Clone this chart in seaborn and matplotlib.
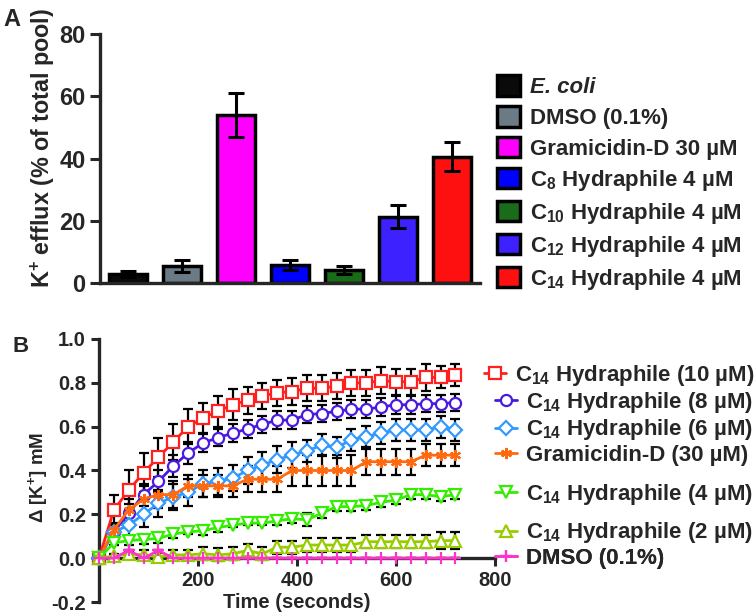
import numpy as np
import matplotlib
matplotlib.use('Agg')
import matplotlib.pyplot as plt
import matplotlib.transforms as mtransforms
from matplotlib.patches import Patch
from matplotlib.lines import Line2D
import seaborn as sns

sns.set_style('ticks')
plt.rcParams['font.family'] = ['Liberation Sans', 'DejaVu Sans']
plt.rcParams['font.weight'] = 'bold'
plt.rcParams['axes.labelweight'] = 'bold'
plt.rcParams['axes.unicode_minus'] = False
plt.rcParams['mathtext.fontset'] = 'custom'
plt.rcParams['mathtext.rm'] = 'Liberation Sans:bold'
plt.rcParams['mathtext.bf'] = 'Liberation Sans:bold'
plt.rcParams['mathtext.it'] = 'Liberation Sans:bold:italic'

# ---- panel A data ----
a_labels = ['E. coli', 'DMSO (0.1%)', 'Gramicidin-D 30 µM', 'C$_8$ Hydraphile 4 µM',
            'C$_{10}$ Hydraphile 4 µM', 'C$_{12}$ Hydraphile 4 µM', 'C$_{14}$ Hydraphile 4 µM']
a_values = [3.0, 5.4, 54.0, 5.9, 4.1, 21.3, 40.6]
a_err = [1.0, 2.0, 7.0, 1.6, 1.3, 3.6, 4.6]
a_colors = ['#0a0a0a', '#6b7b86', '#ff00ff', '#0000ff', '#1a6b1a', '#3d22ff', '#ff1010']

# ---- panel B data ----
time_s = list(range(0, 721, 30))
c14_10 = [0, .22, .31, .39, .46, .53, .60, .64, .67, .70, .72, .74, .755, .76, .775, .775,
          .785, .80, .80, .81, .805, .805, .825, .825, .835]
c14_8 = [0, .12, .205, .29, .35, .42, .48, .525, .55, .57, .59, .61, .63, .63, .655, .66,
         .67, .68, .68, .69, .70, .70, .705, .705, .71]
c14_6 = [0, .12, .15, .20, .25, .28, .30, .34, .35, .365, .40, .425, .45, .47, .49, .515,
         .505, .54, .555, .57, .585, .585, .585, .60, .585]
gram_30 = [0, .13, .22, .27, .29, .29, .33, .33, .33, .33, .36, .36, .36, .40, .40, .40,
           .40, .40, .44, .44, .44, .44, .47, .47, .47]
c14_4 = [0, .07, .08, .085, .09, .11, .12, .125, .14, .15, .16, .16, .17, .18, .175, .205,
         .235, .235, .24, .255, .265, .29, .29, .28, .29]
c14_2 = [0, .01, .02, .015, .005, .015, .015, .02, .015, .02, .035, .02, .05, .05, .06, .06,
         .06, .06, .075, .075, .075, .075, .075, .08, .08]
dmso = [0, 0, .035, 0, .035, 0, 0, 0, 0, 0, 0, 0, 0, 0, 0, 0, 0, 0, 0, 0, 0, 0, 0, 0, 0]

err_10 = [0, .07, .09, .09, .09, .08, .08, .07, .07, .07, .06, .06, .06, .06, .06, .06,
          .06, .06, .06, .06, .06, .06, .06, .05, .05]
err_8 = [0, .03, .04, .05, .05, .05, .05, .04, .04, .04, .04, .04, .04, .04, .04, .04,
         .04, .04, .04, .04, .04, .04, .04, .04, .04]
err_6 = [0, .03, .05, .06, .06, .06, .06, .06, .06, .06, .06, .06, .06, .06, .05, .05,
         .05, .05, .05, .05, .05, .05, .05, .05, .05]
err_g = [0, .03, .05, .06, .06, .06, .05, .05, .05, .05, .06, .06, .06, .07, .07, .07,
         .07, .07, .06, .06, .06, .06, .05, .05, .05]
err_4 = [0, .01, .02, .02, .02, .02, .01, .02, .02, .01, .01, .01, .02, .02, .03, .02,
         .02, .02, .02, .02, .02, .02, .02, .02, .02]
err_2 = [0, .01, .01, .02, .02, .02, .02, .03, .03, .03, .03, .03, .03, .03, .03, .03,
         .03, .03, .03, .03, .03, .03, .03, .04, .04]
err_d = [0] * 25

b_series = [
    ('C$_{14}$ Hydraphile (10 µM)', c14_10, err_10, '#ff2020', 's'),
    ('C$_{14}$ Hydraphile (8 µM)', c14_8, err_8, '#4b1ae0', 'o'),
    ('C$_{14}$ Hydraphile (6 µM)', c14_6, err_6, '#3399ff', 'D'),
    ('Gramicidin-D (30 µM)', gram_30, err_g, '#ff6a10', (6, 2, 0)),
    ('C$_{14}$ Hydraphile (4 µM)', c14_4, err_4, '#33ee00', 'v'),
    ('C$_{14}$ Hydraphile (2 µM)', c14_2, err_2, '#99cc00', '^'),
    ('DMSO (0.1%)', dmso, err_d, '#ff33cc', '+'),
]

W, H = 756, 616
fig = plt.figure(figsize=(W / 100, H / 100), dpi=100)

# ================= Panel A =================
ax1 = fig.add_axes([100 / W, 1 - 283 / H, 380 / W, 249 / H])
sns.barplot(x=list(range(len(a_values))), y=a_values, hue=list(range(len(a_values))),
            palette=a_colors, saturation=1, legend=False, width=0.7, edgecolor='black',
            linewidth=2.5, ax=ax1)
ax1.errorbar(range(len(a_values)), a_values, yerr=a_err, fmt='none', ecolor='black',
             elinewidth=2.2, capsize=6, capthick=2.2, zorder=5)
ax1.set_xlim(-0.52, 6.52)
ax1.set_ylim(0, 80)
ax1.set_yticks([0, 20, 40, 60, 80])
ax1.set_xticks([])
ax1.set_xlabel('')
ax1.set_ylabel('K$^{+}$ efflux (% of total pool)', fontsize=16.8, fontweight='bold')
ax1.yaxis.set_label_coords(-43 / 380, 0.542)
ax1.tick_params(axis='y', labelsize=17, width=2.2, length=7)
for lab in ax1.get_yticklabels():
    lab.set_fontweight('bold')
sns.despine(ax=ax1)
for s in ['left', 'bottom']:
    ax1.spines[s].set_linewidth(2.4)

handles = [Patch(facecolor=c, edgecolor='black', linewidth=2.5) for c in a_colors]
leg = ax1.legend(handles, a_labels, loc='upper left', bbox_to_anchor=(497 / W, 1 - 75 / H),
                 bbox_transform=fig.transFigure, frameon=False, fontsize=16,
                 handlelength=1.05, handleheight=1.05, handletextpad=0.45, labelspacing=0.36,
                 borderpad=0, borderaxespad=0)
for t in leg.get_texts():
    t.set_fontweight('bold')
leg.get_texts()[0].set_fontstyle('italic')

fig.text(3 / W, 1 - 19 / H, 'A', fontsize=17, fontweight='bold', va='center')

# ================= Panel B =================
ax2 = fig.add_axes([99 / W, 1 - 602 / H, 396 / W, 263 / H])
for name, vals, err, col, mk in b_series:
    ax2.errorbar(time_s, vals, yerr=err, fmt='none', ecolor='black', elinewidth=1.6,
                 capsize=3.5, capthick=1.6, zorder=2, clip_on=False)
for name, vals, err, col, mk in b_series:
    open_mk = mk not in ('+', (6, 2, 0))
    sns.lineplot(x=time_s, y=vals, color=col, marker=mk, markersize=8 if mk != 'D' else 7,
                 markerfacecolor='white' if open_mk else col, markeredgecolor=col,
                 markeredgewidth=1.6, linewidth=2.0, ax=ax2, zorder=3, clip_on=False)
ax2.set_xlim(0, 800)
ax2.set_ylim(-0.2, 1.0)
ax2.set_xticks([200, 400, 600, 800])
ax2.set_yticks([-0.2, 0.0, 0.2, 0.4, 0.6, 0.8, 1.0])
ax2.set_yticklabels([f'{v:.1f}' for v in ax2.get_yticks()])
sns.despine(ax=ax2)
ax2.spines['bottom'].set_position(('data', 0))
ax2.spines['left'].set_linewidth(2.4)
ax2.spines['bottom'].set_linewidth(2.4)
ax2.tick_params(axis='both', labelsize=14.5, width=2.2, length=6)
for lab in ax2.get_xticklabels() + ax2.get_yticklabels():
    lab.set_fontweight('bold')
ax2.set_xlabel('Time (seconds)', fontsize=14.5, fontweight='bold', labelpad=2)
ax2.set_ylabel('Δ [K$^{+}$] mM', fontsize=13.5, fontweight='bold')
ax2.yaxis.set_label_coords(-49 / 396, 0.475)

fig.text(12 / W, 1 - 346 / H, 'B', fontsize=16, fontweight='bold', va='center')

# labels next to line ends, spaced apart like the reference
finals = [s[1][-1] for s in b_series]
order = np.argsort(finals)
label_y = {}
prev = None
for i in order:
    y = finals[i]
    if prev is not None and y < prev + 0.115:
        y = prev + 0.115
    label_y[i] = y
    prev = y
blend = mtransforms.blended_transform_factory(fig.transFigure, ax2.transData)
for i, (name, vals, err, col, mk) in enumerate(b_series):
    open_mk = mk not in ('+', (6, 2, 0))
    h = Line2D([], [], color=col, marker=mk, markersize=8 if mk != 'D' else 7,
               markerfacecolor='white' if open_mk else col, markeredgecolor=col,
               markeredgewidth=1.6, linewidth=2.0)
    x0 = 484 / W if i == 0 else 495 / W
    lg = ax2.legend([h], [name], loc='center left', bbox_to_anchor=(x0, label_y[i]),
                    bbox_transform=blend, frameon=False, fontsize=16, handlelength=1.0,
                    handletextpad=0.4, borderpad=0, borderaxespad=0)
    lg.get_texts()[0].set_fontweight('bold')
    ax2.add_artist(lg)

fig.savefig('out.png', dpi=100)
